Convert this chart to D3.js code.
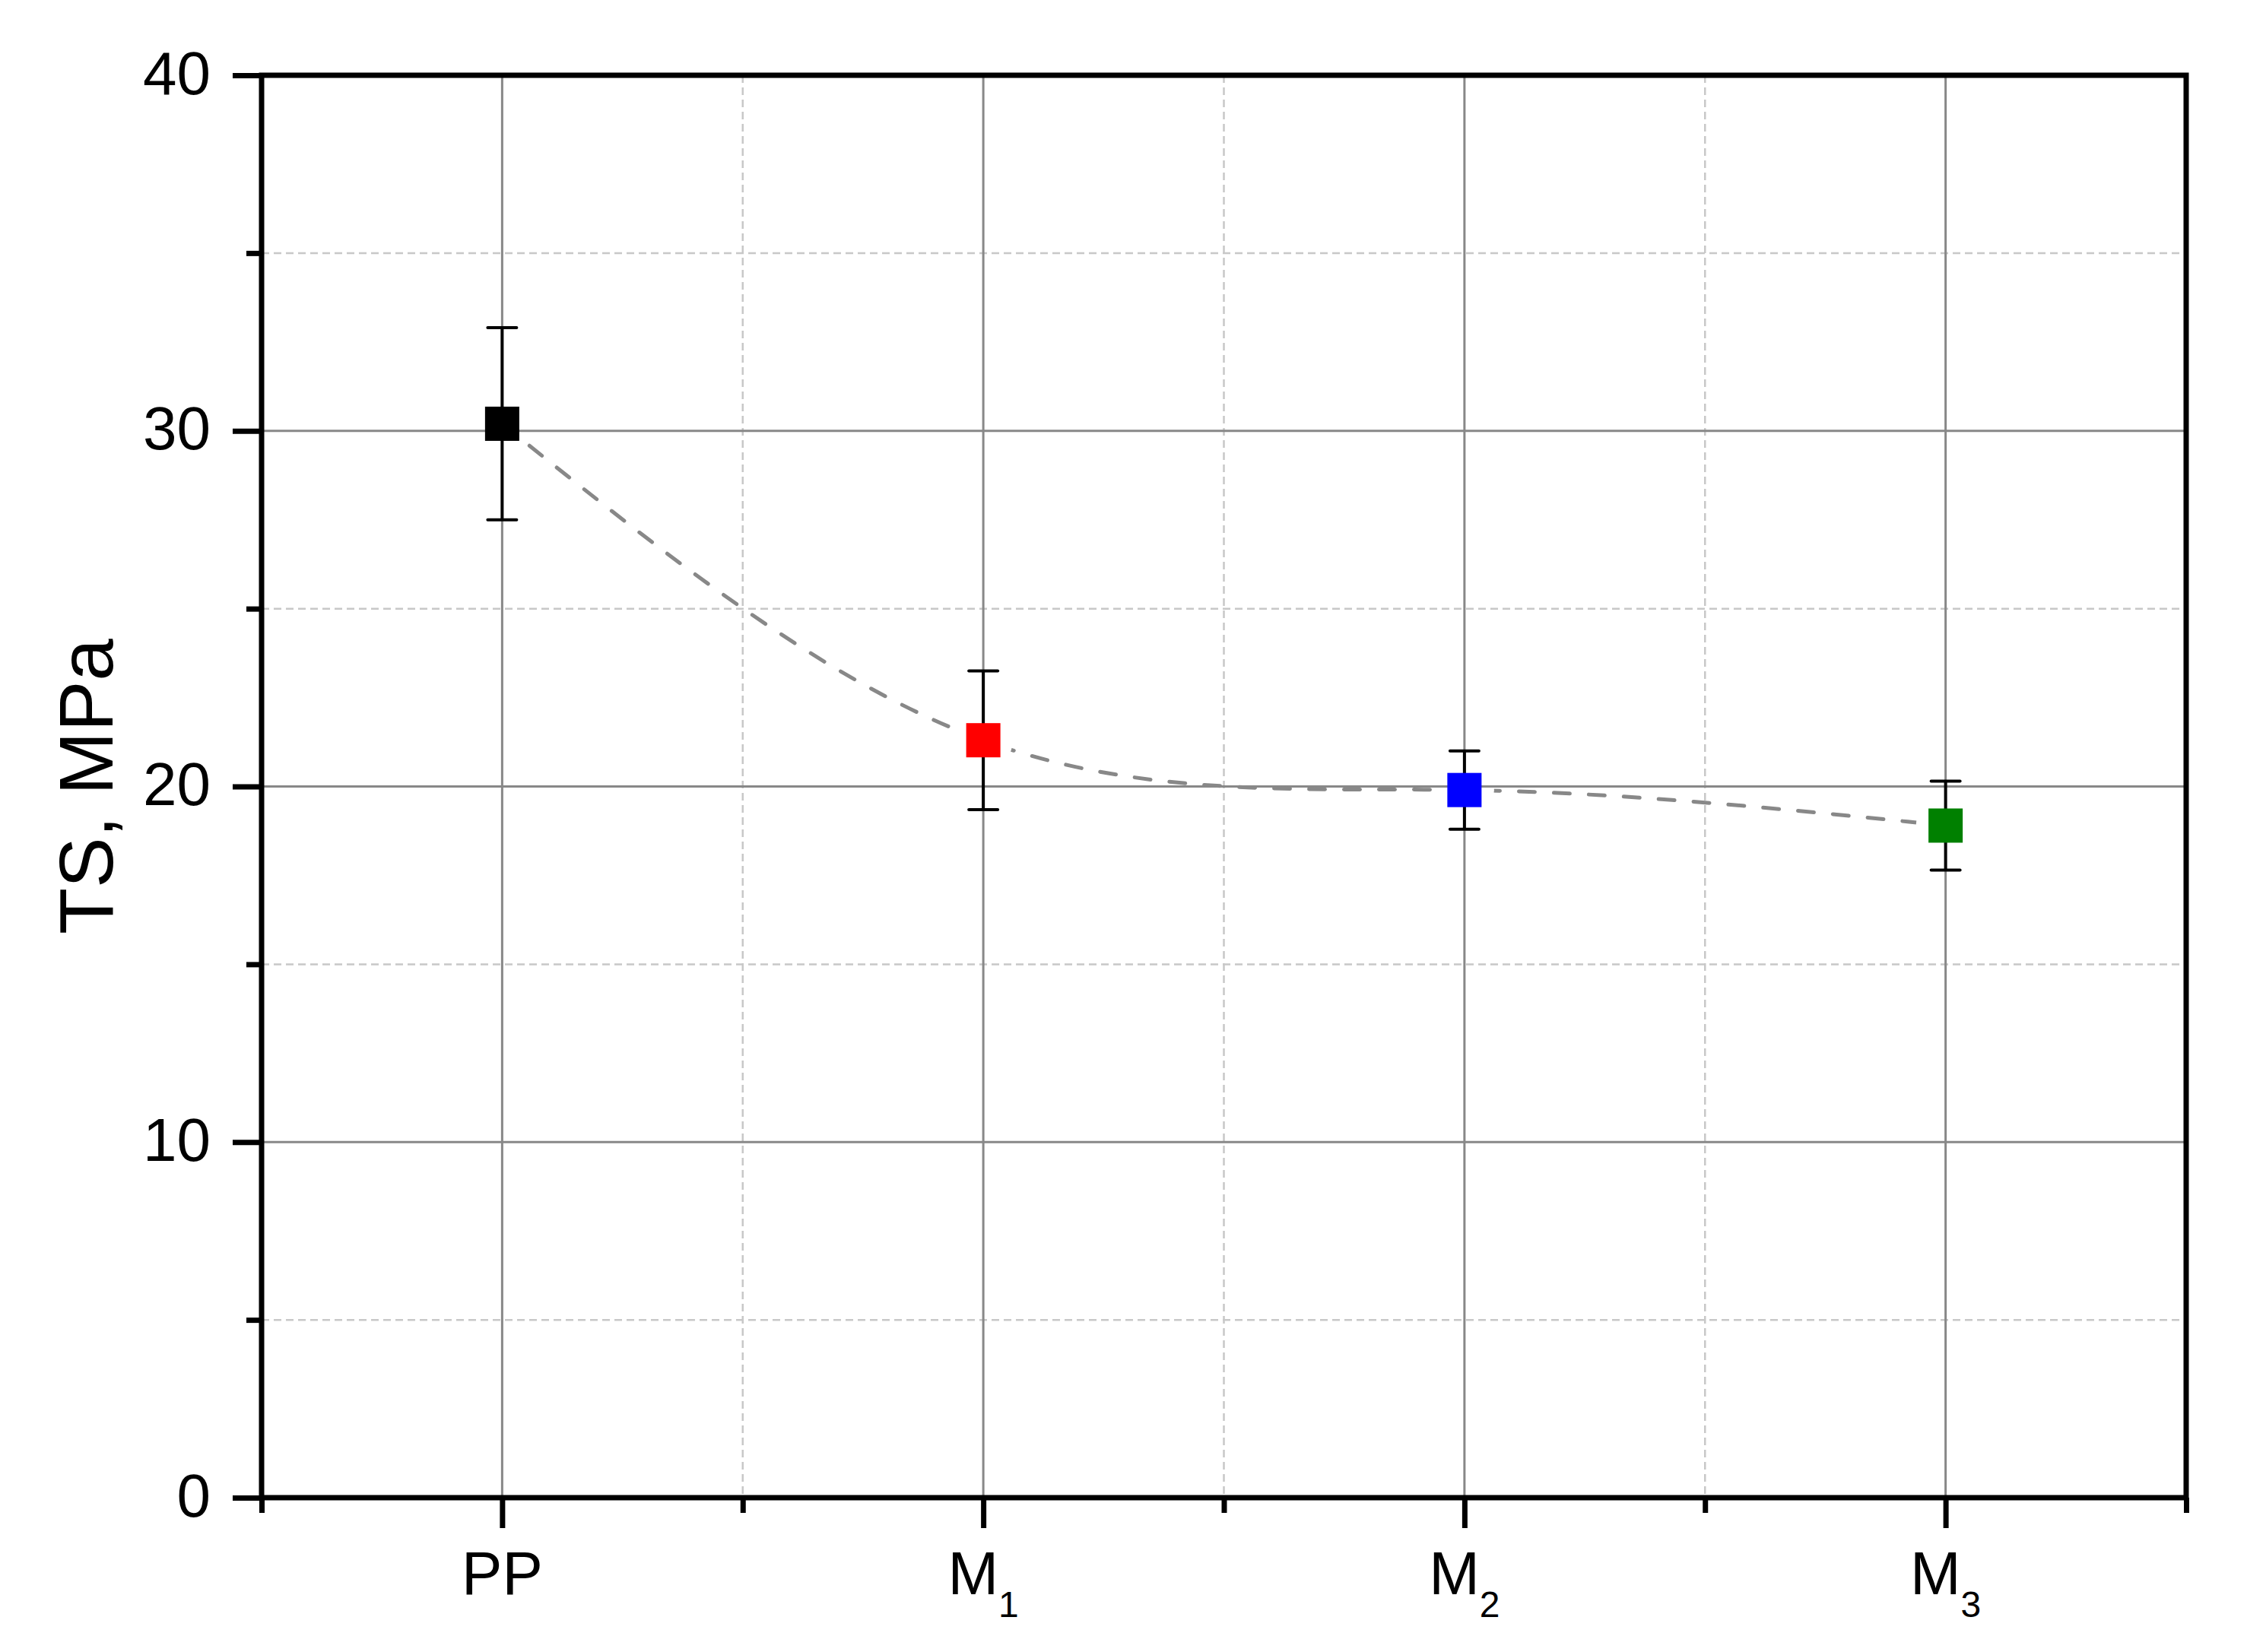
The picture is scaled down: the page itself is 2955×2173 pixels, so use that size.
<!DOCTYPE html>
<html>
<head>
<meta charset="utf-8">
<script src="https://cdn.jsdelivr.net/npm/d3@7"></script>
<style>
  body { margin: 0; background: #fff; }
  text { font-family: "Liberation Sans", Arial, sans-serif; fill: #000; }
</style>
</head>
<body>
<div id="chart"></div>
<script>
    var width = 2955,
        height = 2173;

    // data
    var categories = ["PP", "M1", "M2", "M3"];
    var labelMain = ["PP", "M", "M", "M"];
    var labelSub = ["", "1", "2", "3"];
    var tsValues = [30.2, 21.3, 19.9, 18.9];
    var tsErrors = [2.7, 1.95, 1.1, 1.25];
    var markerColors = ["#000000", "#ff0000", "#0000ff", "#008000"];
    var yMajorTicks = [0, 10, 20, 30, 40];
    var yMinorTicks = [5, 15, 25, 35];
    var xMinorTicks = [0.5, 1.5, 2.5, 3.5, 4.5];

    var margin = { left: 344, right: 2955 - 2875, top: 99, bottom: 2173 - 1970 };
    var w = width - margin.left - margin.right,
        h = height - margin.top - margin.bottom;

    var x = d3.scaleLinear().domain([0.5, 4.5]).range([0, w]);
    var y = d3.scaleLinear().domain([0, 40]).range([h, 0]);

    var svg = d3.select("#chart").append("svg")
      .attr("width", width)
      .attr("height", height);

    var g = svg.append("g")
      .attr("transform", "translate(" + margin.left + "," + margin.top + ")");

    // minor grid (dashed light)
    g.selectAll(".minor-h").data(yMinorTicks).enter().append("line")
      .attr("x1", 0).attr("x2", w)
      .attr("y1", function(d) { return y(d); })
      .attr("y2", function(d) { return y(d); })
      .attr("stroke", "#c8c8c8").attr("stroke-width", 2.5)
      .attr("stroke-dasharray", "10,6");

    g.selectAll(".minor-v").data([1.5, 2.5, 3.5]).enter().append("line")
      .attr("y1", 0).attr("y2", h)
      .attr("x1", function(d) { return x(d); })
      .attr("x2", function(d) { return x(d); })
      .attr("stroke", "#c8c8c8").attr("stroke-width", 2.5)
      .attr("stroke-dasharray", "10,6");

    // major grid
    g.selectAll(".major-h").data([10, 20, 30]).enter().append("line")
      .attr("x1", 0).attr("x2", w)
      .attr("y1", function(d) { return y(d); })
      .attr("y2", function(d) { return y(d); })
      .attr("stroke", "#888").attr("stroke-width", 3);

    g.selectAll(".major-v").data([1, 2, 3, 4]).enter().append("line")
      .attr("y1", 0).attr("y2", h)
      .attr("x1", function(d) { return x(d); })
      .attr("x2", function(d) { return x(d); })
      .attr("stroke", "#888").attr("stroke-width", 3);

    // gaps in the connecting curve around each symbol
    var mask = svg.append("defs").append("mask").attr("id", "gaps")
      .attr("maskUnits", "userSpaceOnUse")
      .attr("x", 0).attr("y", 0).attr("width", width).attr("height", height);
    mask.append("rect")
      .attr("x", 0).attr("y", 0).attr("width", width).attr("height", height)
      .attr("fill", "white");
    mask.selectAll("circle").data(tsValues).enter().append("circle")
      .attr("cx", function(d, i) { return margin.left + x(i + 1); })
      .attr("cy", function(d) { return margin.top + y(d); })
      .attr("r", 39)
      .attr("fill", "black");

    var line = d3.line()
      .x(function(d, i) { return x(i + 1); })
      .y(function(d) { return y(d); })
      .curve(d3.curveNatural);

    svg.append("g")
      .attr("mask", "url(#gaps)")
      .append("g")
      .attr("transform", "translate(" + margin.left + "," + margin.top + ")")
      .append("path")
      .datum(tsValues)
      .attr("d", line)
      .attr("fill", "none")
      .attr("stroke", "#888")
      .attr("stroke-width", 5)
      .attr("stroke-linecap", "round")
      .attr("stroke-dasharray", "21,25");

    // error bars
    var eb = svg.append("g")
      .attr("transform", "translate(" + margin.left + "," + margin.top + ")");
    tsValues.forEach(function(v, i) {
      var cx = x(i + 1);
      eb.append("line")
        .attr("x1", cx).attr("x2", cx)
        .attr("y1", y(v + tsErrors[i])).attr("y2", y(v - tsErrors[i]))
        .attr("stroke", "#000").attr("stroke-width", 4);
      [v + tsErrors[i], v - tsErrors[i]].forEach(function(e) {
        eb.append("line")
          .attr("x1", cx - 19).attr("x2", cx + 19)
          .attr("y1", y(e)).attr("y2", y(e))
          .attr("stroke", "#000").attr("stroke-width", 4)
          .attr("stroke-linecap", "round");
      });
    });

    // markers
    var ms = 45;
    eb.selectAll("rect.marker").data(tsValues).enter().append("rect")
      .attr("class", "marker")
      .attr("x", function(d, i) { return x(i + 1) - ms / 2; })
      .attr("y", function(d) { return y(d) - ms / 2; })
      .attr("width", ms).attr("height", ms)
      .attr("fill", function(d, i) { return markerColors[i]; });

    // axes
    var axes = svg.append("g")
      .attr("transform", "translate(" + margin.left + "," + margin.top + ")");

    var yAxis = axes.append("g")
      .call(d3.axisLeft(y).tickValues(yMajorTicks).tickSize(38).tickPadding(29));
    yAxis.select(".domain").remove();
    yAxis.selectAll("line").attr("stroke", "#000").attr("stroke-width", 7);
    yAxis.selectAll("text")
      .style("font-family", '"Liberation Sans", Arial, sans-serif')
      .attr("font-size", 80)
      .attr("dy", "0.3em");

    var yMinor = axes.append("g")
      .call(d3.axisLeft(y).tickValues(yMinorTicks).tickSize(20).tickFormat(""));
    yMinor.select(".domain").remove();
    yMinor.selectAll("line").attr("stroke", "#000").attr("stroke-width", 7);

    var xAxis = axes.append("g")
      .attr("transform", "translate(0," + h + ")")
      .call(d3.axisBottom(x).tickValues([1, 2, 3, 4]).tickSize(40).tickFormat(""));
    xAxis.select(".domain").remove();
    xAxis.selectAll("line").attr("stroke", "#000").attr("stroke-width", 7);

    var xMinor = axes.append("g")
      .attr("transform", "translate(0," + h + ")")
      .call(d3.axisBottom(x).tickValues(xMinorTicks).tickSize(20).tickFormat(""));
    xMinor.select(".domain").remove();
    xMinor.selectAll("line").attr("stroke", "#000").attr("stroke-width", 7);

    // category labels with subscripts
    categories.forEach(function(c, i) {
      var t = axes.append("text")
        .attr("x", x(i + 1))
        .attr("y", h + 127)
        .attr("text-anchor", "middle")
        .attr("font-size", 80);
      t.append("tspan").text(labelMain[i]);
      if (labelSub[i]) {
        t.append("tspan")
          .attr("font-size", 48)
          .attr("dy", 30)
          .text(labelSub[i]);
      }
    });

    // frame
    axes.append("rect")
      .attr("x", 0).attr("y", 0).attr("width", w).attr("height", h)
      .attr("fill", "none")
      .attr("stroke", "#000")
      .attr("stroke-width", 7);

    // y title
    svg.append("text")
      .attr("transform", "translate(148," + (margin.top + h / 2) + ") rotate(-90)")
      .attr("text-anchor", "middle")
      .attr("font-size", 100)
      .text("TS, MPa");
</script>
</body>
</html>
